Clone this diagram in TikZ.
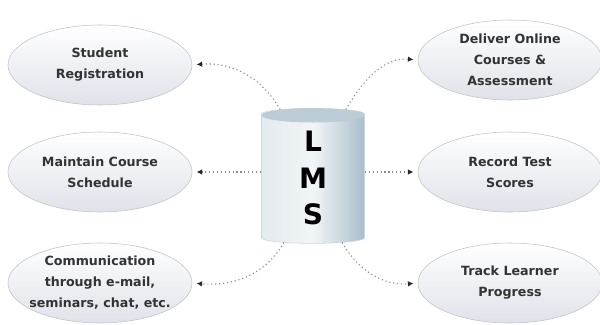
\documentclass[tikz,border=0pt]{standalone}
\usepackage{fontspec}
\setmainfont{DejaVu Sans}
\usetikzlibrary{positioning, arrows.meta, shapes.geometric, calc}
\definecolor{ovalline}{HTML}{BFC3CB}
\definecolor{ovaldark}{HTML}{DFE2E9}
\definecolor{drumlight}{HTML}{F2F5F7}
\definecolor{drumdark}{HTML}{A9BECB}
\definecolor{drumtop}{HTML}{BCCCD6}
\definecolor{linkgray}{HTML}{8A8A8A}

\begin{document}
\begin{tikzpicture}[auto, >={Latex[length=4pt,width=4pt,color=black!85]},
    task/.style={draw=ovalline, ellipse, minimum width=4.6cm, minimum height=2cm,
      inner sep=1pt, top color=white, bottom color=ovaldark, align=center, text=black!80,
      font=\fontsize{9}{15}\selectfont\bfseries},
    link/.style={->, dotted, thick, draw=linkgray, shorten >=3pt}]
  \useasboundingbox (0,0) rectangle (15,8.1);
  % Define blocks
  \node [draw=drumdark!60, cylinder, shape border rotate=90, aspect=0.3,
    minimum width=2.575cm, minimum height=3.375cm,
    left color=drumlight!80!drumdark, right color=drumdark, middle color=drumlight,
    align=center, font=\fontsize{20}{26}\selectfont\bfseries] (lms) at (7.825,3.6) {\\[-14pt]L\\M\\S};
  \fill [drumtop] ($(lms.top)+(0,-0.18)$) ellipse [x radius=1.2875cm, y radius=0.18cm];

  \node [task] (reg) at (2.5,6.475) {Student\\Registration};
  \node [task] (sched) at (2.5,3.8) {Maintain Course\\Schedule};
  \node [task] (comm) at (2.5,1.025) {Communication\\through e-mail,\\\makebox[3cm]{seminars, chat, etc.}};
  \node [task] (deliver) at (12.75,6.6) {Deliver Online\\Courses \&\\Assessment};
  \node [task] (score) at (12.75,3.8) {Record Test\\Scores};
  \node [task] (track) at (12.75,1.025) {Track Learner\\Progress};

  % Connect blocks with dotted arrows
  \draw [link] (lms.115) to[out=120, in=5] (reg.east);
  \draw [link] (lms.west |- sched.east) -- (sched.east);
  \draw [link] (lms.245) to[out=-120, in=-5] (comm.east);
  \draw [link] (lms.65) to[out=60, in=175] (deliver.west);
  \draw [link] (lms.east |- score.west) -- (score.west);
  \draw [link] (lms.295) to[out=-60, in=185] (track.west);
\end{tikzpicture}
\end{document}
